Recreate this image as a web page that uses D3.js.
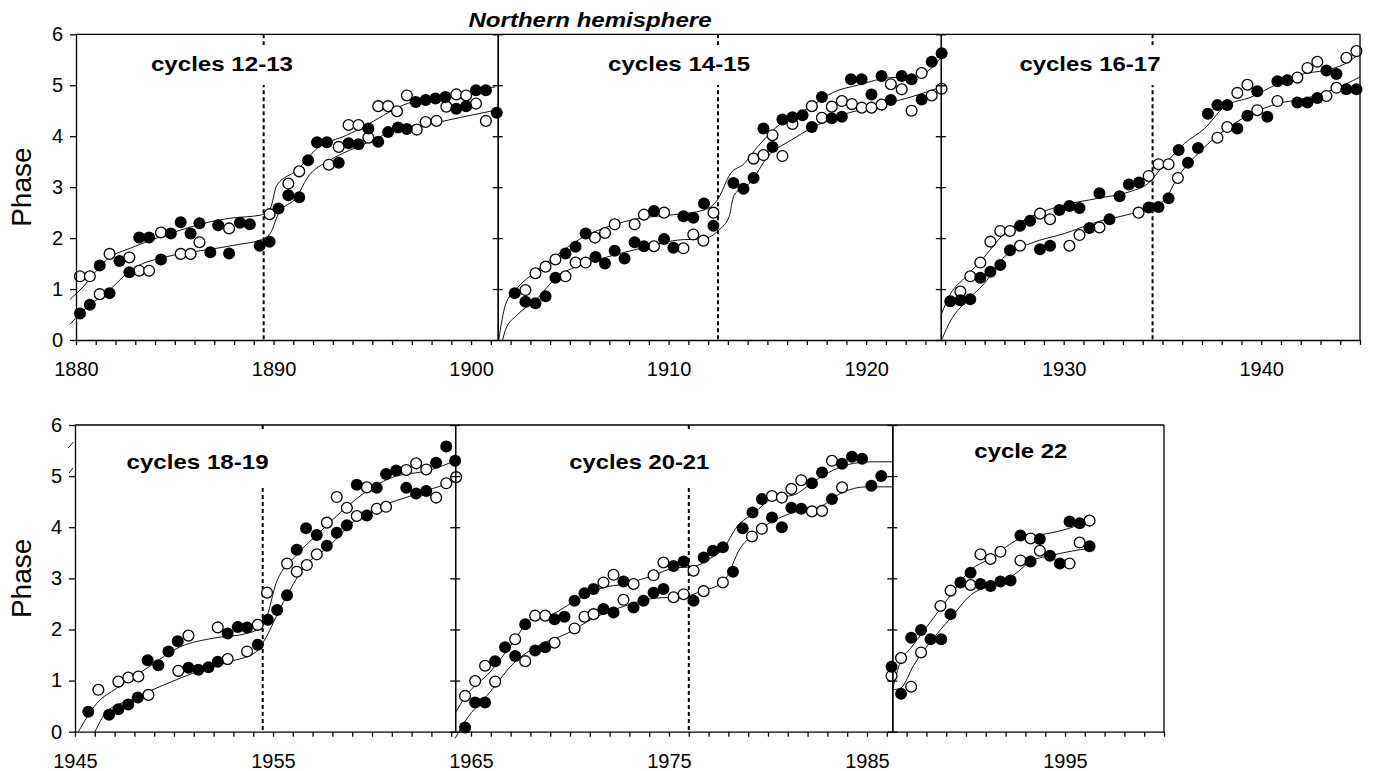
<!DOCTYPE html>
<html>
<head>
<meta charset="utf-8">
<script src="https://cdn.jsdelivr.net/npm/d3@7"></script>
<style>
body { margin: 0; background: #fff; }
text { font-family: "Liberation Sans", Arial, sans-serif; fill: #000; }
</style>
</head>
<body>
<script>
//W and H
var w = 1377;
var h = 771;

//tick labels
var topTickYears = [1880, 1890, 1900, 1910, 1920, 1930, 1940];
var bottomTickYears = [1945, 1955, 1965, 1975, 1985, 1995];
var phaseTicks = [0, 1, 2, 3, 4, 5, 6];

//cycles 12-13  ([year, phase])
var c1213Solid = [[1880.2,0.52],[1880.7,0.69],[1881.2,1.46],[1881.7,0.92],[1882.2,1.55],[1882.7,1.33],[1883.2,2.01],[1883.7,2.01],[1884.3,1.58],[1884.8,2.09],[1885.3,2.31],[1885.8,2.09],[1886.25,2.29],[1886.8,1.72],[1887.2,2.25],[1887.75,1.70],[1888.3,2.30],[1888.8,2.27],[1889.3,1.85],[1889.8,1.93],[1890.25,2.58],[1890.75,2.84],[1891.3,2.80],[1891.75,3.53],[1892.2,3.88],[1892.7,3.88],[1893.3,3.48],[1893.8,3.86],[1894.3,3.84],[1894.8,4.15],[1895.3,3.89],[1895.8,4.08],[1896.3,4.17],[1896.75,4.14],[1897.2,4.67],[1897.7,4.71],[1898.2,4.74],[1898.7,4.77],[1899.25,4.54],[1899.75,4.59],[1900.25,4.90],[1900.75,4.90],[1901.3,4.46]];
var c1213Open = [[1880.2,1.25],[1880.7,1.25],[1881.2,0.90],[1881.7,1.69],[1882.7,1.62],[1883.2,1.36],[1883.7,1.36],[1884.3,2.11],[1885.3,1.69],[1885.8,1.69],[1886.25,1.92],[1887.75,2.19],[1889.8,2.47],[1890.75,3.07],[1891.3,3.31],[1892.8,3.44],[1893.3,3.79],[1893.8,4.22],[1894.3,4.22],[1894.8,3.97],[1895.3,4.59],[1895.8,4.59],[1896.25,4.49],[1896.75,4.80],[1897.25,4.13],[1897.7,4.28],[1898.25,4.30],[1898.75,4.58],[1899.25,4.82],[1899.75,4.80],[1900.25,4.64],[1900.75,4.30]];
var c1213FitA = [[1879.7,0.80],[1880.2,0.98],[1881.72,1.63],[1882.74,1.80],[1884.76,2.09],[1886.8,2.32],[1887.8,2.39],[1889.32,2.45],[1889.83,2.58],[1890.17,3.04],[1891.18,3.33],[1892.2,3.76],[1893.7,4.02],[1894.73,4.22],[1895.57,4.41],[1896.76,4.64],[1898.78,4.77],[1901.23,4.97]];
var c1213FitB = [[1879.7,0.31],[1880.2,0.52],[1881.72,0.99],[1882.74,1.36],[1884.76,1.65],[1886.8,1.78],[1888.3,1.88],[1889.32,1.96],[1889.83,2.09],[1890.25,2.48],[1891.18,2.81],[1891.69,3.17],[1892.87,3.53],[1894.56,3.84],[1895.57,4.02],[1897.94,4.24],[1901.23,4.51]];

//cycles 14-15
var c1415Solid = [[1902.21,0.92],[1902.75,0.75],[1903.26,0.72],[1903.77,0.86],[1904.27,1.22],[1904.78,1.70],[1905.29,1.83],[1905.8,2.09],[1906.3,1.63],[1906.78,1.50],[1907.27,1.75],[1907.77,1.60],[1908.28,1.92],[1908.75,1.84],[1909.26,2.53],[1909.77,1.98],[1910.24,1.81],[1910.75,2.43],[1911.25,2.40],[1911.79,2.68],[1912.27,2.24],[1913.28,3.08],[1913.79,2.97],[1914.3,3.18],[1914.8,4.15],[1915.26,3.79],[1915.76,4.33],[1916.27,4.37],[1916.78,4.41],[1917.25,4.18],[1917.76,4.77],[1918.26,4.35],[1918.77,4.38],[1919.23,5.12],[1919.77,5.12],[1920.27,4.82],[1920.78,5.18],[1921.25,4.71],[1921.8,5.18],[1922.3,5.12],[1922.81,4.72],[1923.32,5.46],[1923.82,5.63]];
var c1415Open = [[1902.75,0.98],[1903.26,1.31],[1903.77,1.44],[1904.27,1.58],[1904.78,1.25],[1905.29,1.52],[1905.8,1.52],[1906.27,2.01],[1906.78,2.10],[1907.27,2.27],[1908.28,2.27],[1908.75,2.46],[1909.26,1.84],[1909.77,2.50],[1910.75,1.80],[1911.25,2.07],[1911.76,1.95],[1912.27,2.50],[1914.3,3.56],[1914.8,3.63],[1915.26,4.02],[1915.76,3.61],[1916.27,4.24],[1917.25,4.59],[1917.76,4.36],[1918.26,4.58],[1918.77,4.69],[1919.28,4.63],[1919.78,4.56],[1920.27,4.56],[1920.78,4.62],[1921.25,5.02],[1921.8,4.92],[1922.3,4.50],[1922.81,5.24],[1923.32,4.80],[1923.82,4.93]];
var c1415FitA = [[1901.4,0],[1901.74,0.69],[1902.25,0.98],[1903.26,1.34],[1904.36,1.67],[1905.54,1.99],[1906.89,2.22],[1908.58,2.39],[1910.27,2.46],[1911.79,2.55],[1912.47,2.75],[1913.14,3.27],[1913.82,3.46],[1914.5,3.79],[1915.68,4.25],[1917.03,4.54],[1918.38,4.87],[1919.56,5.0],[1921.25,5.15],[1922.44,5.16],[1923.28,5.33],[1923.82,5.56]];
var c1415FitB = [[1901.6,0],[1901.74,0.2],[1902.33,0.49],[1903.26,0.78],[1904.36,1.24],[1905.54,1.47],[1906.89,1.63],[1908.58,1.80],[1910.44,1.96],[1911.79,1.99],[1912.55,2.16],[1913.06,2.42],[1913.31,2.84],[1914.16,3.10],[1915.0,3.59],[1916.19,3.92],[1917.2,4.15],[1918.72,4.41],[1920.41,4.58],[1922.27,4.77],[1923.82,4.97]];

//cycles 16-17
var c1617Solid = [[1924.26,0.76],[1924.77,0.78],[1925.27,0.80],[1925.78,1.22],[1926.29,1.34],[1926.79,1.47],[1927.28,1.76],[1927.79,2.24],[1928.3,2.34],[1928.8,1.78],[1929.31,1.85],[1929.78,2.55],[1930.29,2.63],[1930.8,2.59],[1931.3,2.20],[1931.81,2.88],[1932.32,2.37],[1932.83,2.82],[1933.3,3.05],[1933.81,3.09],[1934.3,2.60],[1934.8,2.61],[1935.31,2.78],[1935.82,3.73],[1936.29,3.48],[1936.8,3.77],[1937.3,4.44],[1937.78,4.61],[1938.28,4.61],[1938.79,4.15],[1939.3,4.40],[1939.8,4.88],[1940.31,4.38],[1940.82,5.08],[1941.32,5.10],[1941.83,4.66],[1942.34,4.66],[1942.84,4.75],[1943.3,5.29],[1943.81,5.22],[1944.31,4.92],[1944.82,4.92]];
var c1617Open = [[1924.77,0.95],[1925.27,1.25],[1925.78,1.52],[1926.29,1.93],[1926.79,2.14],[1927.28,2.14],[1927.79,1.85],[1928.8,2.48],[1929.31,2.37],[1930.29,1.85],[1930.8,2.06],[1931.81,2.21],[1933.79,2.50],[1934.3,3.22],[1934.8,3.45],[1935.31,3.45],[1935.78,3.18],[1937.78,3.97],[1938.28,4.18],[1938.79,4.85],[1939.3,5.01],[1939.8,4.51],[1940.82,4.69],[1941.83,5.15],[1942.34,5.34],[1942.84,5.46],[1943.3,4.79],[1943.81,4.95],[1944.31,5.54],[1944.82,5.67]];
var c1617FitA = [[1923.82,0.52],[1924.29,0.92],[1924.97,1.21],[1925.98,1.63],[1926.99,2.09],[1928.35,2.42],[1930.04,2.65],[1931.73,2.78],[1933.42,2.92],[1934.26,3.07],[1934.94,3.37],[1936.12,3.86],[1937.13,4.15],[1938.15,4.58],[1939.5,4.77],[1940.85,5.03],[1942.2,5.23],[1943.22,5.29],[1944.23,5.42],[1944.99,5.62]];
var c1617FitB = [[1923.82,0],[1924.29,0.39],[1924.97,0.72],[1925.98,1.11],[1926.99,1.63],[1928.35,1.90],[1930.04,2.09],[1931.73,2.32],[1933.42,2.48],[1934.43,2.61],[1935.11,2.75],[1935.78,3.20],[1936.8,3.66],[1938.15,4.12],[1939.5,4.44],[1940.85,4.64],[1942.2,4.74],[1943.55,4.90],[1944.99,5.16]];

//cycles 18-19
var c1819Solid = [[1945.67,0.39],[1946.72,0.33],[1947.19,0.44],[1947.69,0.53],[1948.17,0.67],[1948.67,1.40],[1949.21,1.30],[1949.72,1.57],[1950.19,1.77],[1950.73,1.25],[1951.23,1.21],[1951.74,1.26],[1952.21,1.37],[1952.71,1.92],[1953.22,2.05],[1953.69,2.04],[1954.23,1.70],[1954.74,2.19],[1955.21,2.38],[1955.71,2.67],[1956.2,3.56],[1956.67,3.98],[1957.21,3.85],[1957.72,3.64],[1958.22,3.89],[1958.73,4.04],[1959.23,4.83],[1959.74,4.23],[1960.24,4.77],[1960.71,5.04],[1961.22,5.11],[1961.73,4.77],[1962.23,4.66],[1962.74,4.71],[1963.24,5.26],[1963.75,5.58],[1964.2,5.30]];
var c1819Open = [[1946.18,0.82],[1947.19,0.98],[1947.69,1.06],[1948.2,1.08],[1948.71,0.72],[1950.22,1.19],[1950.73,1.88],[1952.21,2.04],[1952.71,1.42],[1953.69,1.57],[1954.23,2.09],[1954.7,2.72],[1955.71,3.29],[1956.2,3.13],[1956.71,3.26],[1957.21,3.47],[1957.72,4.09],[1958.22,4.59],[1958.73,4.38],[1959.23,4.22],[1959.74,4.78],[1960.24,4.36],[1960.71,4.40],[1961.73,5.12],[1962.23,5.25],[1962.74,5.13],[1963.24,4.58],[1963.75,4.86],[1964.25,4.98]];
var c1819FitA = [[1945.17,0],[1946.09,0.55],[1947.1,0.85],[1948.62,1.24],[1950.31,1.66],[1951.99,1.83],[1953.67,1.92],[1954.52,2.09],[1955.19,2.94],[1956.2,3.46],[1957.38,3.91],[1958.73,4.40],[1959.57,4.66],[1960.92,4.96],[1962.94,5.12],[1964.2,5.30]];
var c1819FitB = [[1946.01,0],[1946.6,0.39],[1947.78,0.62],[1949.46,0.91],[1951.15,1.17],[1952.83,1.37],[1954.18,1.57],[1954.52,1.76],[1955.53,2.54],[1956.54,3.20],[1957.89,3.65],[1959.06,4.11],[1960.41,4.40],[1962.1,4.63],[1964.12,4.89]];
//ends of the cycle 16-17 fits that show again left of the lower frame
var c1617TailA = [[1944.66,5.55],[1944.92,5.67]];
var c1617TailB = [[1944.7,5.06],[1944.9,5.16]];

//cycles 20-21
var c2021Solid = [[1964.7,0.08],[1965.21,0.57],[1965.71,0.57],[1966.22,1.38],[1966.72,1.65],[1967.23,1.48],[1967.74,2.10],[1968.24,1.59],[1968.75,1.65],[1969.22,2.20],[1969.72,2.25],[1970.23,2.56],[1970.73,2.71],[1971.19,2.79],[1971.69,2.40],[1972.2,2.33],[1972.7,2.94],[1973.21,2.43],[1973.71,2.56],[1974.22,2.72],[1974.72,2.79],[1975.23,3.24],[1975.74,3.33],[1976.24,2.56],[1976.75,3.41],[1977.22,3.54],[1977.72,3.61],[1978.23,3.13],[1978.72,3.98],[1979.22,4.29],[1979.69,4.55],[1980.2,4.19],[1980.7,4.00],[1981.18,4.38],[1981.68,4.36],[1982.22,4.86],[1982.73,5.07],[1983.23,4.55],[1983.74,5.24],[1984.24,5.38],[1984.75,5.34],[1985.22,4.81],[1985.72,5.00]];
var c2021Open = [[1964.7,0.70],[1965.21,0.99],[1965.71,1.29],[1966.22,0.98],[1967.23,1.81],[1967.74,1.38],[1968.24,2.27],[1968.75,2.27],[1969.22,1.74],[1970.23,2.02],[1970.73,2.25],[1971.19,2.30],[1971.69,2.92],[1972.2,3.07],[1972.7,2.58],[1973.21,2.89],[1974.22,3.06],[1974.72,3.31],[1975.23,2.63],[1975.74,2.69],[1976.24,3.15],[1976.75,2.75],[1977.72,2.92],[1979.19,3.82],[1979.69,3.97],[1980.2,4.61],[1980.7,4.58],[1981.18,4.75],[1981.68,4.92],[1982.22,4.31],[1982.73,4.32],[1983.23,5.30],[1983.74,4.78]];
var c2021FitA = [[1964.2,0.36],[1964.7,0.68],[1965.97,1.17],[1967.15,1.76],[1967.99,2.19],[1969.0,2.28],[1970.18,2.54],[1971.52,2.80],[1972.87,2.90],[1974.22,3.06],[1975.23,3.20],[1976.24,3.23],[1977.08,3.39],[1977.76,3.59],[1978.43,4.01],[1979.27,4.27],[1980.28,4.57],[1981.29,4.63],[1982.3,4.89],[1983.32,5.12],[1984.33,5.25],[1985.34,5.28],[1986.3,5.28]];
var c2021FitB = [[1964.2,-0.13],[1964.7,0.2],[1965.97,0.78],[1967.15,1.34],[1968.49,1.70],[1969.84,1.92],[1971.19,2.22],[1972.7,2.45],[1974.22,2.61],[1975.74,2.64],[1976.58,2.74],[1977.76,2.94],[1978.6,3.59],[1979.44,3.91],[1981.13,4.27],[1982.64,4.40],[1983.65,4.66],[1985.0,4.79],[1986.3,4.79]];

//cycle 22
var c22Solid = [[1986.24,1.27],[1986.72,0.74],[1987.23,1.84],[1987.73,1.99],[1988.21,1.81],[1988.75,1.81],[1989.22,2.30],[1989.72,2.92],[1990.23,3.11],[1990.73,2.89],[1991.24,2.85],[1991.74,2.94],[1992.25,2.96],[1992.75,3.84],[1993.26,3.33],[1993.73,3.77],[1994.24,3.44],[1994.74,3.29],[1995.23,4.11],[1995.74,4.08],[1996.24,3.63]];
var c22Open = [[1986.24,1.09],[1986.72,1.44],[1987.23,0.88],[1987.73,1.55],[1988.71,2.46],[1989.22,2.76],[1990.23,2.87],[1990.73,3.47],[1991.24,3.38],[1991.74,3.52],[1992.75,3.35],[1993.26,3.78],[1993.73,3.54],[1995.23,3.29],[1995.74,3.70],[1996.24,4.13]];
var c22FitA = [[1986.3,0.85],[1986.69,1.37],[1987.2,1.63],[1988.21,2.15],[1989.22,2.67],[1990.23,3.16],[1991.24,3.39],[1992.75,3.78],[1993.76,3.85],[1995.23,3.98],[1996.24,4.13]];
var c22FitB = [[1986.3,0.82],[1986.69,0.85],[1987.36,1.30],[1988.21,1.76],[1989.22,2.22],[1990.23,2.67],[1991.24,2.87],[1992.42,3.07],[1993.26,3.33],[1994.44,3.46],[1996.24,3.59]];

//panel borders (years)
var topBreaks = [1901.35, 1923.78];
var bottomBreaks = [1964.2, 1986.28];

//two rows of panels
var rows = [
    { years: [1880, 1945], left: 76, right: 1360, top: 34.3, bottom: 340, ticks: topTickYears,
      breaks: topBreaks, gap: [45, 85],
      panels: [
        { label: "cycles 12-13", at: 1887.39, base: 71, len: 142, dash: 1889.5, solid: c1213Solid, open: c1213Open, fits: [c1213FitA, c1213FitB] },
        { label: "cycles 14-15", at: 1910.53, base: 71, len: 142, dash: 1912.5, solid: c1415Solid, open: c1415Open, fits: [c1415FitA, c1415FitB] },
        { label: "cycles 16-17", at: 1931.33, base: 71, len: 141, dash: 1934.5, solid: c1617Solid, open: c1617Open, fits: [c1617FitA, c1617FitB] }
      ] },
    { years: [1945, 2000], left: 75, right: 1164, top: 425, bottom: 731.7, ticks: bottomTickYears,
      breaks: bottomBreaks, gap: [432, 485],
      panels: [
        { label: "cycles 18-19", at: 1951.19, base: 468.5, len: 142, dash: 1954.48, solid: c1819Solid, open: c1819Open, fits: [c1819FitA, c1819FitB, c1617TailA, c1617TailB] },
        { label: "cycles 20-21", at: 1973.5, base: 468.5, len: 140, dash: 1976.0, solid: c2021Solid, open: c2021Open, fits: [c2021FitA, c2021FitB] },
        { label: "cycle 22", at: 1992.77, base: 457.7, len: 93, dash: null, solid: c22Solid, open: c22Open, fits: [c22FitA, c22FitB] }
      ] }
];

//SVG
var svg = d3.select("body")
    .append("svg")
    .attr("width", w)
    .attr("height", h);

svg.append("rect").attr("width", w).attr("height", h).attr("fill", "#fff");

//title
svg.append("text")
    .attr("x", 590)
    .attr("y", 27)
    .attr("text-anchor", "middle")
    .attr("font-size", 20)
    .attr("font-weight", "bold")
    .attr("font-style", "italic")
    .attr("textLength", 243)
    .attr("lengthAdjust", "spacingAndGlyphs")
    .text("Northern hemisphere");

rows.forEach(function(row) {
    var x = d3.scaleLinear().domain(row.years).range([row.left, row.right]);
    var y = d3.scaleLinear().domain([0, 6]).range([row.bottom, row.top]);

    var line = d3.line()
        .x(function(d) { return x(d[0]); })
        .y(function(d) { return y(d[1]); })
        .curve(d3.curveMonotoneX);

    var g = svg.append("g");

    //dashed cycle boundaries
    row.panels.forEach(function(p) {
        if (p.dash == null) return;
        g.append("line")
            .attr("x1", x(p.dash)).attr("x2", x(p.dash))
            .attr("y1", row.top).attr("y2", row.bottom)
            .attr("stroke", "#000")
            .attr("stroke-width", 2)
            .attr("stroke-dasharray", "4,3");
    });

    //panel labels on white
    row.panels.forEach(function(p) {
        var t = g.append("text")
            .attr("x", x(p.at))
            .attr("y", p.base)
            .attr("text-anchor", "middle")
            .attr("font-size", 21)
            .attr("font-weight", "bold")
            .attr("textLength", p.len)
            .attr("lengthAdjust", "spacingAndGlyphs")
            .text(p.label);
        g.insert("rect", function() { return t.node(); })
            .attr("x", x(p.at) - p.len / 2 - 4)
            .attr("width", p.len + 8)
            .attr("y", row.gap[0])
            .attr("height", row.gap[1] - row.gap[0])
            .attr("fill", "#fff");
    });

    //fitted curves
    row.panels.forEach(function(p) {
        p.fits.forEach(function(f) {
            g.append("path")
                .datum(f)
                .attr("d", line)
                .attr("fill", "none")
                .attr("stroke", "#111")
                .attr("stroke-width", 1);
        });
    });

    //points
    row.panels.forEach(function(p) {
        g.selectAll(null)
            .data(p.open)
            .enter().append("circle")
            .attr("cx", function(d) { return x(d[0]); })
            .attr("cy", function(d) { return y(d[1]); })
            .attr("r", 5.4)
            .attr("fill", "#fff")
            .attr("stroke", "#000")
            .attr("stroke-width", 1.3);
        g.selectAll(null)
            .data(p.solid)
            .enter().append("circle")
            .attr("cx", function(d) { return x(d[0]); })
            .attr("cy", function(d) { return y(d[1]); })
            .attr("r", 6)
            .attr("fill", "#000");
    });

    //frame: top and right
    g.append("line")
        .attr("x1", row.left).attr("x2", row.right)
        .attr("y1", row.top).attr("y2", row.top)
        .attr("stroke", "#000").attr("stroke-width", 1.3);
    g.append("line")
        .attr("x1", row.right).attr("x2", row.right)
        .attr("y1", row.top).attr("y2", row.bottom)
        .attr("stroke", "#000").attr("stroke-width", 1.3);

    //panel separators with ticks on both sides
    row.breaks.forEach(function(b) {
        var sg = g.append("g").attr("class", "sep").attr("transform", "translate(" + x(b) + ",0)");
        sg.append("g").call(d3.axisLeft(y).tickValues(phaseTicks).tickSize(5).tickSizeOuter(0).tickFormat(""));
        sg.append("g").call(d3.axisRight(y).tickValues(phaseTicks).tickSize(5).tickSizeOuter(0).tickFormat(""));
    });

    //x axis
    var xAxis = d3.axisBottom(x)
        .tickValues(d3.range(row.years[0], row.years[1] + 1))
        .tickSize(5)
        .tickSizeOuter(0)
        .tickPadding(16.8)
        .tickFormat(function(d) { return row.ticks.indexOf(d) >= 0 ? d : ""; });
    g.append("g")
        .attr("class", "axis")
        .attr("transform", "translate(0," + row.bottom + ")")
        .call(xAxis);

    //y axis
    var yAxis = d3.axisLeft(y)
        .tickValues(phaseTicks)
        .tickFormat(d3.format("d"))
        .tickSize(6)
        .tickSizeOuter(0)
        .tickPadding(7);
    g.append("g")
        .attr("class", "axis")
        .attr("transform", "translate(" + row.left + ",0)")
        .call(yAxis);

    //y label
    svg.append("text")
        .attr("transform", "translate(31," + ((row.top + row.bottom) / 2) + ") rotate(-90)")
        .attr("text-anchor", "middle")
        .attr("font-size", 28)
        .text("Phase");
});

svg.selectAll(".axis text")
    .attr("font-size", 20)
    .attr("font-family", "'Liberation Sans', Arial, sans-serif")
    .attr("fill", "#000");
svg.selectAll(".axis path, .axis line, .sep path, .sep line")
    .attr("stroke", "#000")
    .attr("stroke-width", 1.3);
</script>
</body>
</html>
